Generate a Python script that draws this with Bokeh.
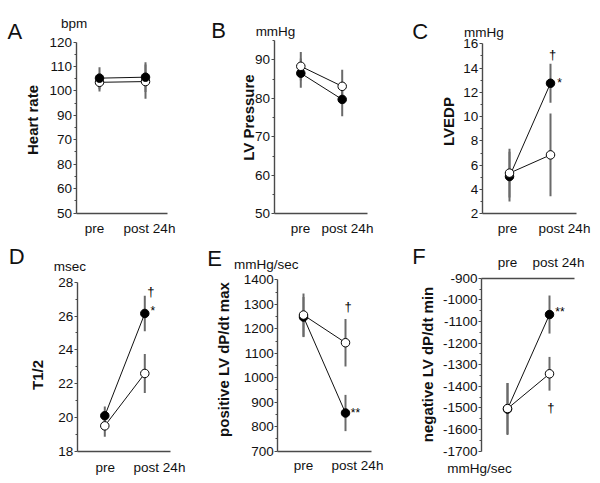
import numpy as np
from bokeh.plotting import figure
from bokeh.models import FixedTicker, Label, ColumnDataSource, Range1d
from bokeh.layouts import row, column
from bokeh.embed import file_html
from bokeh.resources import INLINE

FONT = "Liberation Sans"

# ---------------- data ----------------
TIMEPOINTS = ["pre", "post 24h"]

# A  Heart rate (bpm)
HR_FILLED = [105.2, 105.6]
HR_FILLED_SD = [4.5, 6.1]
HR_OPEN = [103.5, 103.8]
HR_OPEN_SD = [3.8, 7.0]
HR_TICKS = [50, 60, 70, 80, 90, 100, 110, 120]
HR_TICK_LABELS = ["50", "60", "80", "70", "90", "100", "110", "120"]

# B  LV Pressure (mmHg)
LVP_FILLED = [86.5, 79.7]
LVP_FILLED_SD = [3.8, 4.4]
LVP_OPEN = [88.3, 83.1]
LVP_OPEN_SD = [3.7, 4.3]
LVP_TICKS = [50, 60, 70, 80, 90]
LVP_TICK_LABELS = ["50", "60", "70", "80", "90"]

# C  LVEDP (mmHg)
EDP_FILLED = [5.07, 12.75]
EDP_FILLED_SD = [2.05, 1.6]
EDP_OPEN = [5.35, 6.85]
EDP_OPEN_SD = [2.0, 3.4]
EDP_TICKS = [2, 4, 6, 8, 10, 12, 14, 16]
EDP_TICK_LABELS = ["2", "4", "6", "8", "10", "12", "14", "16"]

# D  T1/2 (msec)
T12_FILLED = [20.1, 26.15]
T12_FILLED_SD = [0.55, 1.05]
T12_OPEN = [19.5, 22.6]
T12_OPEN_SD = [0.65, 1.15]
T12_TICKS = [18, 20, 22, 24, 26, 28]
T12_TICK_LABELS = ["18", "20", "22", "24", "26", "28"]

# E  positive LV dP/dt max (mmHg/sec)
DPMAX_FILLED = [1248, 856]
DPMAX_FILLED_SD = [82, 74]
DPMAX_OPEN = [1256, 1143]
DPMAX_OPEN_SD = [88, 97]
DPMAX_TICKS = [700, 800, 900, 1000, 1100, 1200, 1300, 1400]
DPMAX_TICK_LABELS = ["700", "800", "900", "1000", "1100", "1200", "1300", "1400"]

# F  negative LV dP/dt min (mmHg/sec)
DPMIN_FILLED = [-1505, -1068]
DPMIN_FILLED_SD = [120, 88]
DPMIN_OPEN = [-1503, -1342]
DPMIN_OPEN_SD = [118, 78]
DPMIN_TICKS = [-1700, -1600, -1500, -1400, -1300, -1200, -1100, -1000, -900]
DPMIN_TICK_LABELS = ["-1700", "-1600", "-1500", "-1400", "-1300", "-1200",
                     "-1100", "-1000", "-900"]

# significance marks: (text, value level)
C_MARKS = [("\u2020", 15.1), ("*", 12.95)]
D_MARKS = [("\u2020", 27.45), ("*", 26.45)]
E_MARKS = [("\u2020", 1290), ("**", 866)]
F_MARKS = [("**", -1045), ("\u2020", -1500)]

# ---------------- layout (pixel geometry inside each cell) ----------------
# g: axis_left, axis_right, pre_px, post_px, y_top_px, y_bottom_px, pre_label_px, post_label_px
# *_xy: text centre (x, y) in cell pixels (letters: left edge, vertical centre)
PANELS = [
    dict(letter="A", unit="bpm", title="Heart rate",
         filled=HR_FILLED, filled_sd=HR_FILLED_SD, open=HR_OPEN, open_sd=HR_OPEN_SD,
         yticks=HR_TICKS, ylabels=HR_TICK_LABELS, yr=(50, 120), minor=5,
         W=200, H=240, g=(75.5, 167, 99, 145, 41.5, 212.5, 94, 149),
         xloc="below", xstand=8, marks=[], filled_top=True,
         letter_xy=(7, 30.5), unit_xy=(73.7, 23.2), title_xy=(31.7, 119.5)),
    dict(letter="B", unit="mmHg", title="LV Pressure",
         filled=LVP_FILLED, filled_sd=LVP_FILLED_SD, open=LVP_OPEN, open_sd=LVP_OPEN_SD,
         yticks=LVP_TICKS, ylabels=LVP_TICK_LABELS, yr=(50, 95), minor=5,
         W=200, H=240, g=(73.5, 167, 100.3, 141.7, 40, 213.3, 100, 147),
         xloc="below", xstand=7, marks=[], filled_top=False,
         letter_xy=(10.7, 29.5), unit_xy=(75, 30.5), title_xy=(47.5, 117)),
    dict(letter="C", unit="mmHg", title="LVEDP",
         filled=EDP_FILLED, filled_sd=EDP_FILLED_SD, open=EDP_OPEN, open_sd=EDP_OPEN_SD,
         yticks=EDP_TICKS, ylabels=EDP_TICK_LABELS, yr=(2, 16), minor=1,
         W=200, H=240, g=(81.7, 176, 109, 150, 43.3, 213.3, 107, 164),
         xloc="below", xstand=7, marks=[(C_MARKS[0], 2), (C_MARKS[1], 9)], filled_top=False,
         letter_xy=(11.7, 30.5), unit_xy=(83.3, 31.5), title_xy=(47.5, 121)),
    dict(letter="D", unit="msec", title="T1/2",
         filled=T12_FILLED, filled_sd=T12_FILLED_SD, open=T12_OPEN, open_sd=T12_OPEN_SD,
         yticks=T12_TICKS, ylabels=T12_TICK_LABELS, yr=(18, 28), minor=1,
         W=200, H=243, g=(76.7, 170, 104.3, 144.3, 41.7, 210.7, 104.7, 159),
         xloc="below", xstand=9, marks=[(D_MARKS[0], 6), (D_MARKS[1], 8)], filled_top=False,
         letter_xy=(8.3, 16.2), unit_xy=(69.3, 26.2), title_xy=(37, 134.5)),
    dict(letter="E", unit="mmHg/sec", title="positive LV dP/dt max",
         filled=DPMAX_FILLED, filled_sd=DPMAX_FILLED_SD, open=DPMAX_OPEN, open_sd=DPMAX_OPEN_SD,
         yticks=DPMAX_TICKS, ylabels=DPMAX_TICK_LABELS, yr=(700, 1400), minor=50,
         W=200, H=243, g=(77.3, 170.7, 103, 145, 39.3, 210.7, 103, 157),
         xloc="below", xstand=7, marks=[(E_MARKS[0], 2.5), (E_MARKS[1], 10)], filled_top=False,
         letter_xy=(6.7, 17.5), unit_xy=(65.8, 24), title_xy=(22.5, 119)),
    dict(letter="F", unit="mmHg/sec", title="negative LV dP/dt min",
         filled=DPMIN_FILLED, filled_sd=DPMIN_FILLED_SD, open=DPMIN_OPEN, open_sd=DPMIN_OPEN_SD,
         yticks=DPMIN_TICKS, ylabels=DPMIN_TICK_LABELS, yr=(-1700, -900), minor=50,
         W=200, H=243, g=(81, 174, 107, 149, 37.7, 210.7, 107, 158),
         xloc="above", xstand=8, marks=[(F_MARKS[0], 10.5), (F_MARKS[1], 1.3)], filled_top=False,
         letter_xy=(11.7, 16.2), unit_xy=(79, 228), title_xy=(26.5, 124)),
]

AXIS_COLOR = "#4a4a4a"
BAR_COLOR = "#6a6a6a"
TEXT_COLOR = "#111111"


def make_panel(s):
    W, H = s["W"], s["H"]
    ax_l, ax_r, px_pre, px_post, py_top, py_bot, lb_pre, lb_post = s["g"]
    ymin, ymax = s["yr"]
    ux = px_post - px_pre
    sy = (py_bot - py_top) / (ymax - ymin)

    def X(px):
        return (px - px_pre) / ux

    def Y(py):
        return ymin + (py_bot - py) / sy

    p = figure(width=W, height=H,
               x_range=Range1d(X(0), X(W)), y_range=Range1d(Y(H), Y(0)),
               output_backend="svg", toolbar_location=None, title_location=None,
               min_border=0, x_axis_location=s["xloc"])
    p.outline_line_color = None
    p.grid.visible = False
    p.background_fill_color = "white"
    p.border_fill_color = "white"

    ya = p.yaxis[0]
    xa = p.xaxis[0]
    ya.fixed_location = X(ax_l)
    ya.bounds = (ymin, ymax)
    xa.fixed_location = ymax if s["xloc"] == "above" else ymin
    xa.bounds = (X(ax_l), X(ax_r))

    minors = [float(v) for v in np.arange(ymin, ymax + 1e-9, s["minor"]) if v not in s["yticks"]]
    ya.ticker = FixedTicker(ticks=s["yticks"], minor_ticks=minors)
    ya.major_label_overrides = {t: l for t, l in zip(s["yticks"], s["ylabels"])}
    ya.major_tick_in = 0
    ya.major_tick_out = 3
    ya.minor_tick_in = 0
    ya.minor_tick_out = 2
    ya.major_label_standoff = 1
    for a in (ya, xa):
        a.axis_line_color = AXIS_COLOR
        a.axis_line_width = 1.4
        a.major_tick_line_color = AXIS_COLOR
        a.minor_tick_line_color = AXIS_COLOR
        a.major_label_text_font = FONT
        a.major_label_text_font_size = "13.5px"
        a.major_label_text_color = TEXT_COLOR

    t_pre, t_post = round(X(lb_pre), 4), round(X(lb_post), 4)
    xa.ticker = FixedTicker(ticks=[t_pre, t_post], minor_ticks=[])
    xa.major_label_overrides = {t_pre: TIMEPOINTS[0], t_post: TIMEPOINTS[1]}
    xa.major_tick_in = 0
    xa.major_tick_out = 0
    xa.minor_tick_in = 0
    xa.minor_tick_out = 0
    xa.major_label_standoff = int(s["xstand"])

    x = list(range(len(TIMEPOINTS)))
    f = np.array(s["filled"], float)
    fsd = np.array(s["filled_sd"], float)
    o = np.array(s["open"], float)
    osd = np.array(s["open_sd"], float)

    src_f = ColumnDataSource(dict(x=x, y=f, lo=f - fsd, hi=f + fsd))
    src_o = ColumnDataSource(dict(x=x, y=o, lo=o - osd, hi=o + osd))

    for src in (src_f, src_o):
        p.segment(x0="x", y0="lo", x1="x", y1="hi", source=src,
                  line_color=BAR_COLOR, line_width=2)
    for src in (src_f, src_o):
        p.line(x="x", y="y", source=src, line_color="#111111", line_width=1)

    def draw_f():
        p.scatter(x="x", y="y", source=src_f, size=8.5, marker="circle",
                  fill_color="black", line_color="black", line_width=1)

    def draw_o():
        p.scatter(x="x", y="y", source=src_o, size=8.5, marker="circle",
                  fill_color="white", line_color="black", line_width=1)

    if s["filled_top"]:
        draw_o(); draw_f()
    else:
        draw_f(); draw_o()

    for (txt, yv), dx in s["marks"]:
        if txt == "\u2020":
            p.add_layout(Label(x=x[1], y=yv, text=txt, x_offset=dx, y_offset=0,
                               text_align="center", text_baseline="middle",
                               text_font=FONT, text_font_size="13px",
                               text_color="black"))
        else:
            p.add_layout(Label(x=x[1], y=yv, text=txt, x_offset=dx, y_offset=-2.6,
                               text_align="center", text_baseline="middle",
                               text_font=FONT, text_font_size="12px",
                               text_color="black"))

    lx, ly = s["letter_xy"]
    p.add_layout(Label(x=X(lx), y=Y(ly), text=s["letter"], text_align="left",
                       text_baseline="middle", text_font=FONT,
                       text_font_size="22px", text_color=TEXT_COLOR))
    ux_, uy_ = s["unit_xy"]
    p.add_layout(Label(x=X(ux_), y=Y(uy_), text=s["unit"], text_align="center",
                       text_baseline="middle", text_font=FONT,
                       text_font_size="13.5px", text_color=TEXT_COLOR))
    tx, ty = s["title_xy"]
    p.add_layout(Label(x=X(tx), y=Y(ty), text=s["title"], angle=np.pi / 2,
                       text_align="center", text_baseline="middle", text_font=FONT,
                       text_font_size="15px", text_font_style="bold",
                       text_color=TEXT_COLOR))
    return p


figs = [make_panel(s) for s in PANELS]
layout = column(row(*figs[:3], spacing=0), row(*figs[3:], spacing=0), spacing=0)

open("out.html", "w").write(file_html(layout, INLINE))
